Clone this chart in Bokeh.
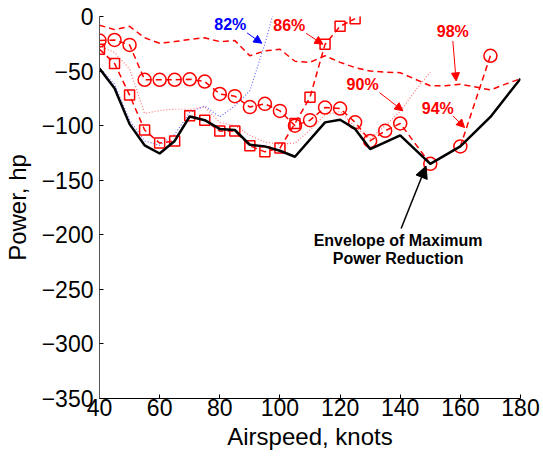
from bokeh.plotting import figure
from bokeh.models import Range1d, Label, Arrow, NormalHead, FixedTicker
from bokeh.embed import file_html
from bokeh.resources import INLINE

# ---------------- data ----------------
airspeed_env = [40, 45, 50, 55, 60, 65, 70, 75, 80, 85, 90, 95, 100, 105, 115, 120, 125, 130, 140, 150, 160, 170, 180]
power_env = [-47.7, -65.7, -98.6, -118, -125.5, -114, -91.6, -95, -103, -104, -117.5, -119, -123, -128.5,
             -97, -94.6, -103, -121.5, -109, -135, -119, -92, -57]

airspeed_82 = [40, 45, 50, 55, 60, 65, 70, 75, 80, 85, 90, 95, 100]
power_82 = [-47, -62, -95, -114, -118, -108, -88, -82, -92, -82, -68, -25, 25]

airspeed_86 = [40, 45, 50, 55, 60, 65, 70, 75, 80, 85, 90, 95, 100, 105, 110, 115, 120, 125]
power_86 = [-30, -43, -72, -104, -116, -114, -91, -95, -105, -105, -118.5, -124, -120.5, -98, -74, -25.5, -9, -2]

airspeed_90 = [40, 45, 50, 55, 60, 65, 70, 75, 80, 85, 90, 95, 100, 105, 110, 115, 120, 125, 130, 135, 140, 145, 150]
power_90 = [-27, -33, -48, -89, -86, -85, -85, -83, -97, -100, -109, -115, -117, -116, -104, -90, -87, -101, -112, -100, -87, -68, -51]

airspeed_94 = [40, 45, 50, 55, 60, 65, 70, 75, 80, 85, 90, 95, 100, 105, 110, 115, 120, 125, 130, 135, 140, 150, 160, 170]
power_94 = [-22, -21.5, -26, -58, -58, -58, -57.5, -59.6, -71, -73, -83, -80, -86.5, -100, -95, -83.4, -84.3,
            -97, -114, -104.7, -98, -135, -119, -36]

airspeed_98 = [40, 45, 50, 55, 60, 65, 70, 75, 80, 85, 90, 95, 100, 105, 110, 115, 120, 125, 130, 135, 140,
               145, 150, 155, 160, 165, 170, 175, 180]
power_98 = [-8, -12, -9, -19.5, -24.5, -23, -21, -19.5, -23, -22, -36, -31.5, -30, -41, -42, -36, -42, -46.8,
            -50, -51, -51.5, -57.5, -63.5, -63.5, -62, -64.5, -67.3, -62, -57]

x_ticks = [40, 60, 80, 100, 120, 140, 160, 180]
y_ticks = [-350, -300, -250, -200, -150, -100, -50, 0]
y_tick_labels = ["\u2212350", "\u2212300", "\u2212250", "\u2212200", "\u2212150", "\u2212100", "\u221250", "0"]

series_labels = ["82%", "86%", "90%", "94%", "98%"]
envelope_label = ["Envelope of Maximum", "Power Reduction"]

# ---------------- figure ----------------
FONT = "Liberation Sans"
p = figure(frame_width=421, frame_height=382, output_backend="svg", toolbar_location=None,
           x_range=Range1d(40, 180), y_range=Range1d(-350, 0),
           min_border_left=90, min_border_right=24, min_border_top=16, min_border_bottom=56,
           x_axis_label="Airspeed, knots", y_axis_label="Power, hp")
p.outline_line_color = None
p.grid.visible = False
p.background_fill_color = "white"
p.border_fill_color = "white"

p.xaxis.ticker = FixedTicker(ticks=x_ticks)
p.yaxis.ticker = FixedTicker(ticks=y_ticks)
p.yaxis.major_label_overrides = {t: l for t, l in zip(y_ticks, y_tick_labels)}
for ax in (p.xaxis[0], p.yaxis[0]):
    ax.major_tick_in = 4
    ax.major_tick_out = 0
    ax.minor_tick_line_color = None
    ax.axis_line_color = "black"
    ax.major_tick_line_color = "black"
    ax.major_label_text_font = FONT
    ax.major_label_text_font_size = "23px"
    ax.major_label_text_color = "black"
    ax.axis_label_text_font = FONT
    ax.axis_label_text_font_size = "24px"
    ax.axis_label_text_font_style = "normal"
    ax.axis_label_text_color = "black"
p.yaxis.axis_line_color = "#555555"
p.xaxis.major_label_standoff = 0
p.xaxis.axis_label_standoff = 4
p.yaxis.major_label_standoff = 6
p.yaxis.axis_label_standoff = 8

RED = "#ff0000"
BLUE = "#0000ff"

# 98% dashed, no markers
p.line(airspeed_98, power_98, line_color=RED, line_width=1.5, line_dash="6 4")
# 90% red dotted
p.line(airspeed_90, power_90, line_color=RED, line_width=1.2, line_dash="1 2", line_alpha=0.55)
# 82% blue dotted
p.line(airspeed_82, power_82, line_color=BLUE, line_width=1.2, line_dash="1 2", line_alpha=0.6)
# 86% dashed with squares
p.line(airspeed_86, power_86, line_color=RED, line_width=1.5, line_dash="6 4")
p.scatter(airspeed_86, power_86, marker="square", size=10, line_color=RED, line_width=1.5, fill_color=None)
# 94% dashed with circles
p.line(airspeed_94, power_94, line_color=RED, line_width=1.5, line_dash="6 4")
p.scatter(airspeed_94, power_94, marker="circle", size=13, line_color=RED, line_width=1.5, fill_color=None)
# envelope
p.line(airspeed_env, power_env, line_color="black", line_width=2.5)

# ---------------- annotations ----------------
label_pos = [(83.5, -6.9), (103.1, -8.7), (127.5, -62.6), (152.5, -84.1), (157.5, -14.2)]
label_col = [BLUE, RED, RED, RED, RED]
arrow_pos = [((89.1, -15.1), (94.0, -24.5)),
             ((108.7, -15.4), (114.3, -25.4)),
             ((133.1, -69.7), (140.9, -86.4)),
             ((157.5, -91.0), (161.4, -101.7)),
             ((157.5, -22.4), (158.6, -59.0))]
for txt, (lx, ly), col, ((x0, y0), (x1, y1)) in zip(series_labels, label_pos, label_col, arrow_pos):
    p.add_layout(Label(x=lx, y=ly, text=txt, text_color=col, text_font=FONT, text_font_size="16px",
                       text_font_style="bold", text_align="center", text_baseline="middle"))
    p.add_layout(Arrow(end=NormalHead(size=8, fill_color=col, line_color=col, line_width=1),
                       x_start=x0, y_start=y0, x_end=x1, y_end=y1, line_color=col, line_width=1))

env_pos = [(139.3, -205.3), (139.3, -221.8)]
for txt, (lx, ly) in zip(envelope_label, env_pos):
    p.add_layout(Label(x=lx, y=ly, text=txt, text_color="black", text_font=FONT, text_font_size="16px",
                       text_font_style="bold", text_align="center", text_baseline="middle"))
p.add_layout(Arrow(end=NormalHead(size=12, fill_color="black", line_color="black", line_width=1),
                   x_start=140.3, y_start=-194.3, x_end=148.6, y_end=-137.0,
                   line_color="black", line_width=1.5))

open("out.html", "w").write(file_html(p, INLINE))
